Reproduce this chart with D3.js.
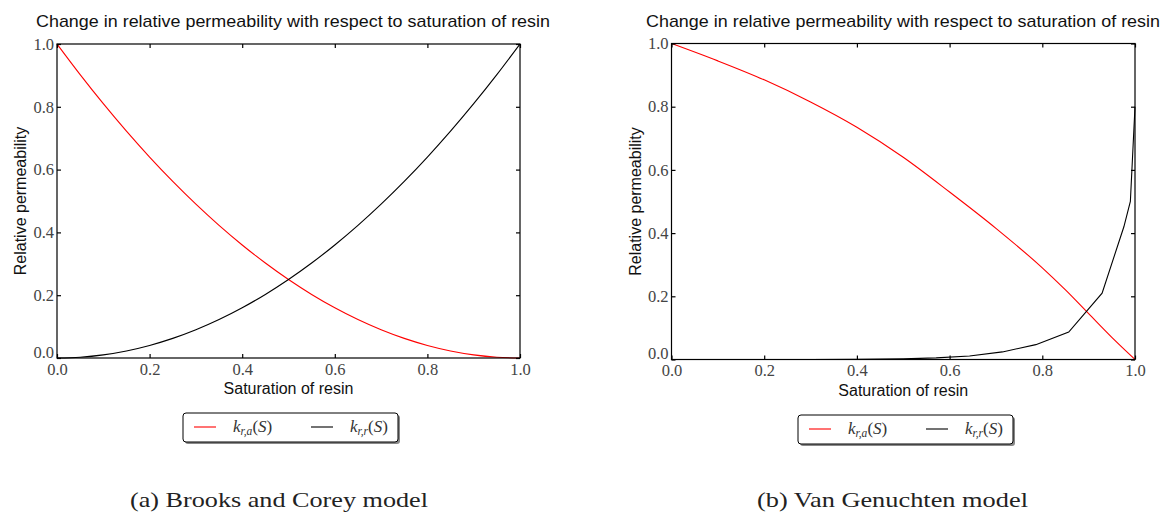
<!DOCTYPE html>
<html>
<head>
<meta charset="utf-8">
<script src="https://cdn.jsdelivr.net/npm/d3@7"></script>
<style>
  body { margin: 0; background: #fff; }
  svg { display: block; }
  .tick text { font-family: 'Liberation Serif', 'Times New Roman', serif; font-size: 16.5px; fill: #444; }
</style>
</head>
<body>
<div id="chart"></div>
<script>
// ---- data ----
// (a) Brooks and Corey
var satBC = [0, 0.05, 0.1, 0.15, 0.2, 0.25, 0.3, 0.35, 0.4, 0.45, 0.5, 0.55, 0.6, 0.65, 0.7, 0.75, 0.8, 0.85, 0.9, 0.95, 1.0];
var kraBC = [1.0, 0.9025, 0.81, 0.7225, 0.64, 0.5625, 0.49, 0.4225, 0.36, 0.3025, 0.25, 0.2025, 0.16, 0.1225, 0.09, 0.0625, 0.04, 0.0225, 0.01, 0.0025, 0.0];
var krrBC = [0.0, 0.0025, 0.01, 0.0225, 0.04, 0.0625, 0.09, 0.1225, 0.16, 0.2025, 0.25, 0.3025, 0.36, 0.4225, 0.49, 0.5625, 0.64, 0.7225, 0.81, 0.9025, 1.0];

// (b) Van Genuchten
var satVGa = [0, 0.1, 0.2, 0.3, 0.4, 0.5, 0.6, 0.7, 0.8, 0.85, 0.9, 0.95, 1.0];
var kraVG = [1.0, 0.945, 0.885, 0.815, 0.735, 0.64, 0.53, 0.415, 0.29, 0.22, 0.145, 0.07, 0.0];
var satVGr = [0, 0.1, 0.2, 0.3, 0.4, 0.5, 0.571, 0.643, 0.714, 0.786, 0.857, 0.929, 0.976, 0.99, 1.0];
var krrVG = [0, 0, 0, 0, 0.0005, 0.002, 0.005, 0.011, 0.024, 0.047, 0.087, 0.21, 0.42, 0.5, 0.8];

var tickValues = [0, 0.2, 0.4, 0.6, 0.8, 1.0];
var titleText = "Change in relative permeability with respect to saturation of resin";
var xLabel = "Saturation of resin";
var yLabel = "Relative permeability";
var legendNames = ["r,a", "r,r"];
var captions = ["(a) Brooks and Corey model", "(b) Van Genuchten model"];

var W = 1167, H = 522;

var svg = d3.select("#chart").append("svg")
    .attr("width", W)
    .attr("height", H);

var panels = [
  { left: 57, right: 520, top: 44, bottom: 358, titleX: 293,
    series: [ {x: satBC, y: kraBC, color: "#ff0000", curve: d3.curveMonotoneX},
              {x: satBC, y: krrBC, color: "#000000", curve: d3.curveMonotoneX} ],
    legend: {x: 183, y: 413}, caption: {x: 130, w: 298} },
  { left: 671.5, right: 1135, top: 43.5, bottom: 359.5, titleX: 903,
    series: [ {x: satVGa, y: kraVG, color: "#ff0000", curve: d3.curveMonotoneX},
              {x: satVGr, y: krrVG, color: "#000000", curve: d3.curveLinear} ],
    legend: {x: 798, y: 415}, caption: {x: 757, w: 271} }
];

panels.forEach(function(p, i) {
  var g = svg.append("g");
  var x = d3.scaleLinear().domain([0, 1]).range([p.left, p.right]);
  var y = d3.scaleLinear().domain([0, 1]).range([p.bottom, p.top]);
  var cx = (p.left + p.right) / 2, cy = (p.top + p.bottom) / 2;

  // title
  g.append("text")
      .attr("x", p.titleX).attr("y", 27)
      .attr("text-anchor", "middle")
      .attr("textLength", 514)
      .attr("lengthAdjust", "spacingAndGlyphs")
      .style("font-family", "'Liberation Sans', Arial, sans-serif")
      .style("font-size", "17px")
      .style("fill", "#111")
      .text(titleText);

  // curves
  p.series.forEach(function(s) {
    var line = d3.line().curve(s.curve);
    var pts = s.x.map(function(v, k) { return [x(v), y(s.y[k])]; });
    g.append("path")
        .attr("d", line(pts))
        .attr("fill", "none")
        .attr("stroke", s.color)
        .attr("stroke-width", 1.1);
  });

  // axes with inward ticks on all four sides
  var fmt = d3.format(".1f");
  g.append("g").attr("transform", "translate(0," + p.bottom + ")")
      .call(d3.axisBottom(x).tickValues(tickValues).tickFormat(fmt).tickSizeInner(-4).tickSizeOuter(0).tickPadding(5));
  var axL = g.append("g").attr("transform", "translate(" + p.left + ",0)")
      .call(d3.axisLeft(y).tickValues(tickValues).tickFormat(fmt).tickSizeInner(-4).tickSizeOuter(0).tickPadding(3));
  // the bottom y label sits just above the x label, as in the original
  axL.selectAll(".tick text").filter(function(d) { return d === 0; }).attr("dy", "-0.05em");
  g.append("g").attr("transform", "translate(0," + p.top + ")")
      .call(d3.axisTop(x).tickValues(tickValues).tickFormat("").tickSizeInner(-4).tickSizeOuter(0));
  g.append("g").attr("transform", "translate(" + p.right + ",0)")
      .call(d3.axisRight(y).tickValues(tickValues).tickFormat("").tickSizeInner(-4).tickSizeOuter(0));
  g.selectAll(".domain").remove();
  g.selectAll(".tick line").attr("stroke", "#000").attr("stroke-width", 1.2);

  // frame
  g.append("rect")
      .attr("x", p.left).attr("y", p.top)
      .attr("width", p.right - p.left).attr("height", p.bottom - p.top)
      .attr("fill", "none").attr("stroke", "#000").attr("stroke-width", 1.2);

  // axis labels
  g.append("text")
      .attr("x", cx).attr("y", p.bottom + 36)
      .attr("text-anchor", "middle")
      .style("font-family", "'Liberation Sans', Arial, sans-serif")
      .style("font-size", "16px")
      .style("fill", "#111")
      .text(xLabel);
  g.append("text")
      .attr("transform", "translate(" + (p.left - 31) + "," + cy + ") rotate(-90)")
      .attr("text-anchor", "middle")
      .style("font-family", "'Liberation Sans', Arial, sans-serif")
      .style("font-size", "16px")
      .style("fill", "#111")
      .text(yLabel);

  // legend
  var lg = g.append("g").attr("transform", "translate(" + p.legend.x + "," + p.legend.y + ")");
  lg.append("rect")
      .attr("x", 2).attr("y", 2).attr("width", 215).attr("height", 29).attr("rx", 3)
      .attr("fill", "#888");
  lg.append("rect")
      .attr("x", 0).attr("y", 0).attr("width", 215).attr("height", 29).attr("rx", 3)
      .attr("fill", "#fff").attr("stroke", "#000").attr("stroke-width", 1);
  var entries = [{x: 11, color: "#ff0000"}, {x: 128, color: "#000000"}];
  entries.forEach(function(e, k) {
    lg.append("line")
        .attr("x1", e.x).attr("x2", e.x + 22)
        .attr("y1", 14).attr("y2", 14)
        .attr("stroke", e.color).attr("stroke-width", 1.1);
    var t = lg.append("text")
        .attr("x", e.x + 39).attr("y", 19)
        .style("font-family", "'Liberation Serif', 'Times New Roman', serif")
        .style("font-size", "17px")
        .style("fill", "#333");
    t.append("tspan").style("font-style", "italic").text("k");
    t.append("tspan").attr("dy", 3).style("font-style", "italic").style("font-size", "11.5px").text(legendNames[k]);
    t.append("tspan").attr("dy", -3).text("(");
    t.append("tspan").style("font-style", "italic").text("S");
    t.append("tspan").text(")");
  });

  // caption
  svg.append("text")
      .attr("x", p.caption.x).attr("y", 507)
      .attr("textLength", p.caption.w)
      .attr("lengthAdjust", "spacingAndGlyphs")
      .style("font-family", "'Liberation Serif', 'Times New Roman', serif")
      .style("font-size", "22px")
      .style("fill", "#222")
      .text(captions[i]);
});
</script>
</body>
</html>
